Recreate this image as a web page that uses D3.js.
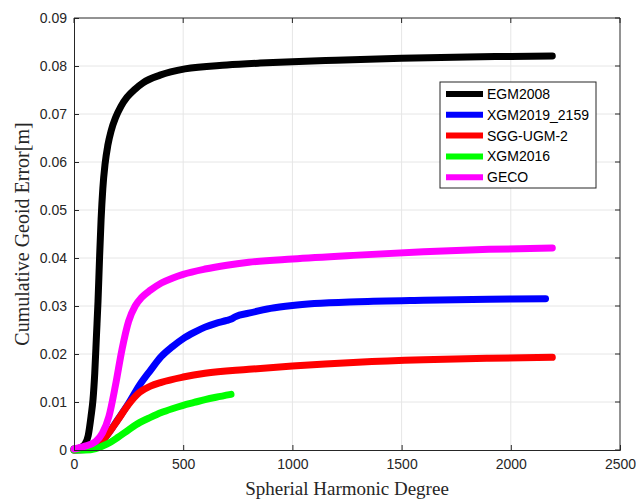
<!DOCTYPE html>
<html>
<head>
<meta charset="utf-8">
<script src="https://cdn.jsdelivr.net/npm/d3@7"></script>
<style>
  html, body { margin: 0; padding: 0; background: #fff; }
  svg { display: block; }
</style>
</head>
<body>
<svg id="chart" width="636" height="500"></svg>
<script>
// ---- data ----
const seriesNames = ["EGM2008", "XGM2019_2159", "SGG-UGM-2", "XGM2016", "GECO"];
const seriesColors = ["#000000", "#0000ff", "#ff0000", "#00ff00", "#ff00ff"];

const egm2008Deg = [0, 30, 50, 65, 78, 87, 95, 103, 110, 117, 124, 132, 142, 155, 170, 190, 215, 243, 280, 316, 394, 508, 700, 852, 1000, 1200, 1500, 1800, 2000, 2190];
const egm2008Val = [0.0002, 0.0005, 0.0012, 0.003, 0.007, 0.0105, 0.016, 0.024, 0.031, 0.040, 0.048, 0.0545, 0.0595, 0.0635, 0.0665, 0.0692, 0.0716, 0.0735, 0.0752, 0.0765, 0.0781, 0.0794, 0.0802, 0.0806, 0.0809, 0.0812, 0.0816, 0.0819, 0.0820, 0.0821];

const xgm2019Deg = [0, 50, 100, 150, 200, 250, 300, 350, 400, 450, 500, 550, 600, 650, 700, 720, 740, 800, 900, 1000, 1100, 1300, 1600, 1900, 2159];
const xgm2019Val = [0, 0.0001, 0.0007, 0.003, 0.0063, 0.0097, 0.0135, 0.0166, 0.0195, 0.0215, 0.0232, 0.0245, 0.0256, 0.0264, 0.0270, 0.0273, 0.0278, 0.0285, 0.0295, 0.0301, 0.0305, 0.0309, 0.0312, 0.0314, 0.0315];

const sggDeg = [0, 50, 100, 150, 200, 250, 300, 350, 400, 500, 600, 800, 1000, 1300, 1600, 1900, 2190];
const sggVal = [0, 0.0001, 0.0007, 0.003, 0.0062, 0.0095, 0.012, 0.0133, 0.0141, 0.0152, 0.016, 0.0168, 0.0175, 0.0183, 0.0188, 0.0191, 0.0193];

const xgm2016Deg = [0, 50, 100, 150, 200, 250, 300, 350, 400, 450, 500, 550, 600, 650, 719];
const xgm2016Val = [0, 0, 0.0003, 0.0012, 0.0026, 0.0042, 0.0057, 0.0068, 0.0078, 0.0086, 0.0093, 0.0099, 0.0105, 0.0110, 0.0116];

const gecoDeg = [0, 50, 100, 130, 160, 190, 220, 250, 280, 310, 350, 400, 450, 500, 600, 700, 800, 1000, 1300, 1600, 1900, 2190];
const gecoVal = [0.0002, 0.0008, 0.0018, 0.0035, 0.007, 0.0135, 0.021, 0.0268, 0.0300, 0.0318, 0.0333, 0.0348, 0.0358, 0.0366, 0.0377, 0.0385, 0.0391, 0.0398, 0.0406, 0.0413, 0.0418, 0.0421];

const xTicks = [0, 500, 1000, 1500, 2000, 2500];
const yTicks = [0, 0.01, 0.02, 0.03, 0.04, 0.05, 0.06, 0.07, 0.08, 0.09];
const xLabel = "Spherial Harmonic Degree";
const yLabel = "Cumulative Geoid Error[m]";

// ---- build ----
const seriesDeg = [egm2008Deg, xgm2019Deg, sggDeg, xgm2016Deg, gecoDeg];
const seriesVal = [egm2008Val, xgm2019Val, sggVal, xgm2016Val, gecoVal];
const series = seriesNames.map((n, i) => ({
  name: n, color: seriesColors[i],
  pts: seriesDeg[i].map((d, j) => [d, seriesVal[i][j]])
}));

const svg = d3.select("#chart");
const m = {left: 74, right: 620, top: 18, bottom: 450};
const x = d3.scaleLinear().domain([0, 2500]).range([m.left, m.right]);
const y = d3.scaleLinear().domain([0, 0.09]).range([m.bottom, m.top]);

const axisColor = "#262626";
const gridColor = "#e6e6e6";

// grid
svg.append("g").selectAll("line").data(xTicks.slice(1, -1)).join("line")
  .attr("x1", d => x(d)).attr("x2", d => x(d))
  .attr("y1", m.top).attr("y2", m.bottom)
  .attr("stroke", gridColor).attr("stroke-width", 1);
svg.append("g").selectAll("line").data(yTicks.slice(1, -1)).join("line")
  .attr("y1", d => y(d)).attr("y2", d => y(d))
  .attr("x1", m.left).attr("x2", m.right)
  .attr("stroke", gridColor).attr("stroke-width", 1);

// lines
const line = d3.line().x(d => x(d[0])).y(d => y(d[1])).curve(d3.curveMonotoneX);
svg.append("g").selectAll("path").data(series).join("path")
  .attr("d", d => line(d.pts))
  .attr("fill", "none")
  .attr("stroke", d => d.color)
  .attr("stroke-width", 7)
  .attr("stroke-linecap", "round")
  .attr("stroke-linejoin", "round");

// axes
const fmtY = d => d === 0 ? "0" : d3.format(".2f")(d);
const xAxis = d3.axisBottom(x).tickValues(xTicks).tickSize(-5).tickPadding(9).tickFormat(d3.format("d"));
const yAxis = d3.axisLeft(y).tickValues(yTicks).tickSize(-5).tickPadding(7).tickFormat(fmtY);
const gx = svg.append("g").attr("transform", `translate(0,${m.bottom})`).call(xAxis);
const gy = svg.append("g").attr("transform", `translate(${m.left},0)`).call(yAxis);
[gx, gy].forEach(g => {
  g.select(".domain").attr("stroke", axisColor);
  g.selectAll(".tick line").attr("stroke", axisColor);
  g.selectAll(".tick text").attr("fill", axisColor)
    .style("font-family", "'Liberation Sans', Arial, sans-serif").style("font-size", "14px");
});
// top & right box lines with ticks
svg.append("line").attr("x1", m.left).attr("x2", m.right).attr("y1", m.top).attr("y2", m.top).attr("stroke", axisColor);
svg.append("line").attr("x1", m.right).attr("x2", m.right).attr("y1", m.top).attr("y2", m.bottom).attr("stroke", axisColor);
svg.append("g").selectAll("line").data(xTicks).join("line")
  .attr("x1", d => x(d)).attr("x2", d => x(d)).attr("y1", m.top).attr("y2", m.top + 5).attr("stroke", axisColor);
svg.append("g").selectAll("line").data(yTicks).join("line")
  .attr("y1", d => y(d)).attr("y2", d => y(d)).attr("x1", m.right).attr("x2", m.right - 5).attr("stroke", axisColor);

// axis titles
svg.append("text").attr("x", (m.left + m.right) / 2).attr("y", 495)
  .attr("text-anchor", "middle").attr("fill", axisColor)
  .style("font-family", "'Liberation Serif', 'Times New Roman', serif").style("font-size", "19px")
  .text(xLabel);
svg.append("text").attr("transform", `translate(29,${(m.top + m.bottom) / 2}) rotate(-90)`)
  .attr("text-anchor", "middle").attr("fill", axisColor)
  .style("font-family", "'Liberation Serif', 'Times New Roman', serif").style("font-size", "20px")
  .text(yLabel);

// legend
const lg = svg.append("g").attr("transform", "translate(440,82)");
lg.append("rect").attr("x", 0).attr("y", 0).attr("width", 156).attr("height", 106)
  .attr("fill", "#fff").attr("stroke", axisColor).attr("stroke-width", 1);
const rows = lg.selectAll("g.row").data(series).join("g")
  .attr("transform", (d, i) => `translate(0,${12 + i * 20.8})`);
rows.append("line").attr("x1", 6).attr("x2", 43).attr("y1", 0).attr("y2", 0)
  .attr("stroke", d => d.color).attr("stroke-width", 6);
rows.append("text").attr("x", 47).attr("y", 5).attr("fill", "#000")
  .style("font-family", "'Liberation Sans', Arial, sans-serif").style("font-size", "14px")
  .text(d => d.name);
</script>
</body>
</html>
